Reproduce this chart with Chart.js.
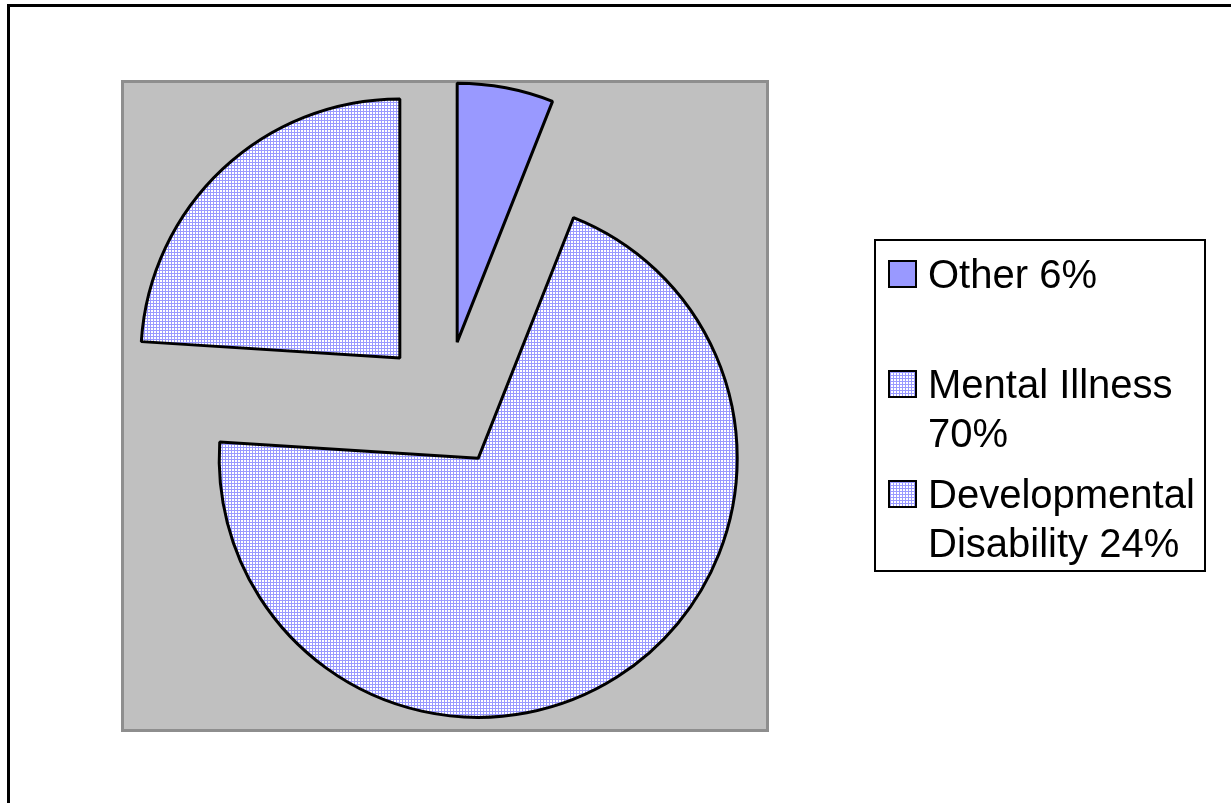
<!DOCTYPE html>
<html>
<head>
<meta charset="utf-8">
<title>Pie chart</title>
<script src="https://cdn.jsdelivr.net/npm/chart.js@4.4.0/dist/chart.umd.min.js"></script>
<style>
  html, body { margin: 0; padding: 0; background: #fff; width: 1231px; height: 803px; overflow: hidden; }
  .frame { position: absolute; left: 7px; top: 4px; width: 1400px; height: 1000px; border-left: 3px solid #000; border-top: 3px solid #000; }
  #pie { position: absolute; left: 0; top: 0; }
  .legend { position: absolute; left: 874px; top: 239px; width: 332px; height: 333px; border: 2px solid #000; box-sizing: border-box; background: #fff;
            font-family: 'Liberation Sans', Arial, sans-serif; font-size: 40px; line-height: 49px; color: #000; }
  .legend-item { position: absolute; left: 12px; }
  .swatch { position: absolute; left: 0; top: 10px; width: 29px; height: 28px; border: 2px solid #000; box-sizing: border-box; background-color: #fff; }
  .swatch.grid { background-image: linear-gradient(#9999ff 1px, transparent 1px), linear-gradient(90deg, #9999ff 1px, transparent 1px); background-size: 3px 3px; }
  .legend-text { margin-left: 40px; width: 280px; }
</style>
</head>
<body>
<div class="frame"></div>
<canvas id="pie" width="1231" height="803"></canvas>
<div class="legend" id="legend"></div>

<script>
// Data
const labels = ['Other', 'Mental Illness', 'Developmental Disability'];
const values = [6, 70, 24];
// how far each slice is pulled out of the pie, in px
const explode = [65, 62, 66];

const canvas = document.getElementById('pie');
const ctx = canvas.getContext('2d');

// fine lavender grid fill like the original
function gridPattern() {
  const tile = document.createElement('canvas');
  tile.width = 3;
  tile.height = 3;
  const g = tile.getContext('2d');
  g.fillStyle = '#ffffff';
  g.fillRect(0, 0, 3, 3);
  g.fillStyle = '#9999ff';
  g.fillRect(0, 0, 3, 1);
  g.fillRect(0, 0, 1, 3);
  return ctx.createPattern(tile, 'repeat');
}

const sliceFills = ['#9999ff', gridPattern(), gridPattern()];

// Gray plot area behind the pie
const plotBg = {
  id: 'plotBg',
  beforeDraw(chart) {
    const { ctx, chartArea: a } = chart;
    ctx.save();
    ctx.fillStyle = '#c0c0c0';
    ctx.fillRect(a.left, a.top, a.width, a.height);
    ctx.strokeStyle = '#8e8e8e';
    ctx.lineWidth = 3;
    ctx.strokeRect(a.left + 1.5, a.top + 1.5, a.width - 3, a.height - 3);
    ctx.restore();
  }
};

// Pull slices out along their middle angle, keeping the radius the same
const explodePlugin = {
  id: 'explode',
  afterDatasetUpdate(chart, args) {
    args.meta.data.forEach((arc, i) => {
      const d = explode[i] || 0;
      const mid = (arc.startAngle + arc.endAngle) / 2;
      arc.x += Math.cos(mid) * d;
      arc.y += Math.sin(mid) * d;
    });
  }
};

new Chart(ctx, {
  type: 'pie',
  data: {
    labels: labels,
    datasets: [{
      data: values,
      backgroundColor: sliceFills,
      borderColor: '#000',
      borderWidth: 3
    }]
  },
  options: {
    responsive: false,
    animation: false,
    events: [],
    radius: 259,
    layout: { padding: { left: 121, top: 80, right: 462, bottom: 71 } },
    plugins: {
      legend: { display: false },
      tooltip: { enabled: false }
    }
  },
  plugins: [plotBg, explodePlugin]
});

// Legend (wrapped text like the original)
const legend = document.getElementById('legend');
const itemTops = [9, 119, 229];
labels.forEach((label, i) => {
  const item = document.createElement('div');
  item.className = 'legend-item';
  item.style.top = itemTops[i] + 'px';
  const sw = document.createElement('div');
  sw.className = i === 0 ? 'swatch' : 'swatch grid';
  if (i === 0) sw.style.backgroundColor = '#9999ff';
  const txt = document.createElement('div');
  txt.className = 'legend-text';
  txt.textContent = label + ' ' + values[i] + '%';
  item.appendChild(sw);
  item.appendChild(txt);
  legend.appendChild(item);
});
</script>
</body>
</html>
